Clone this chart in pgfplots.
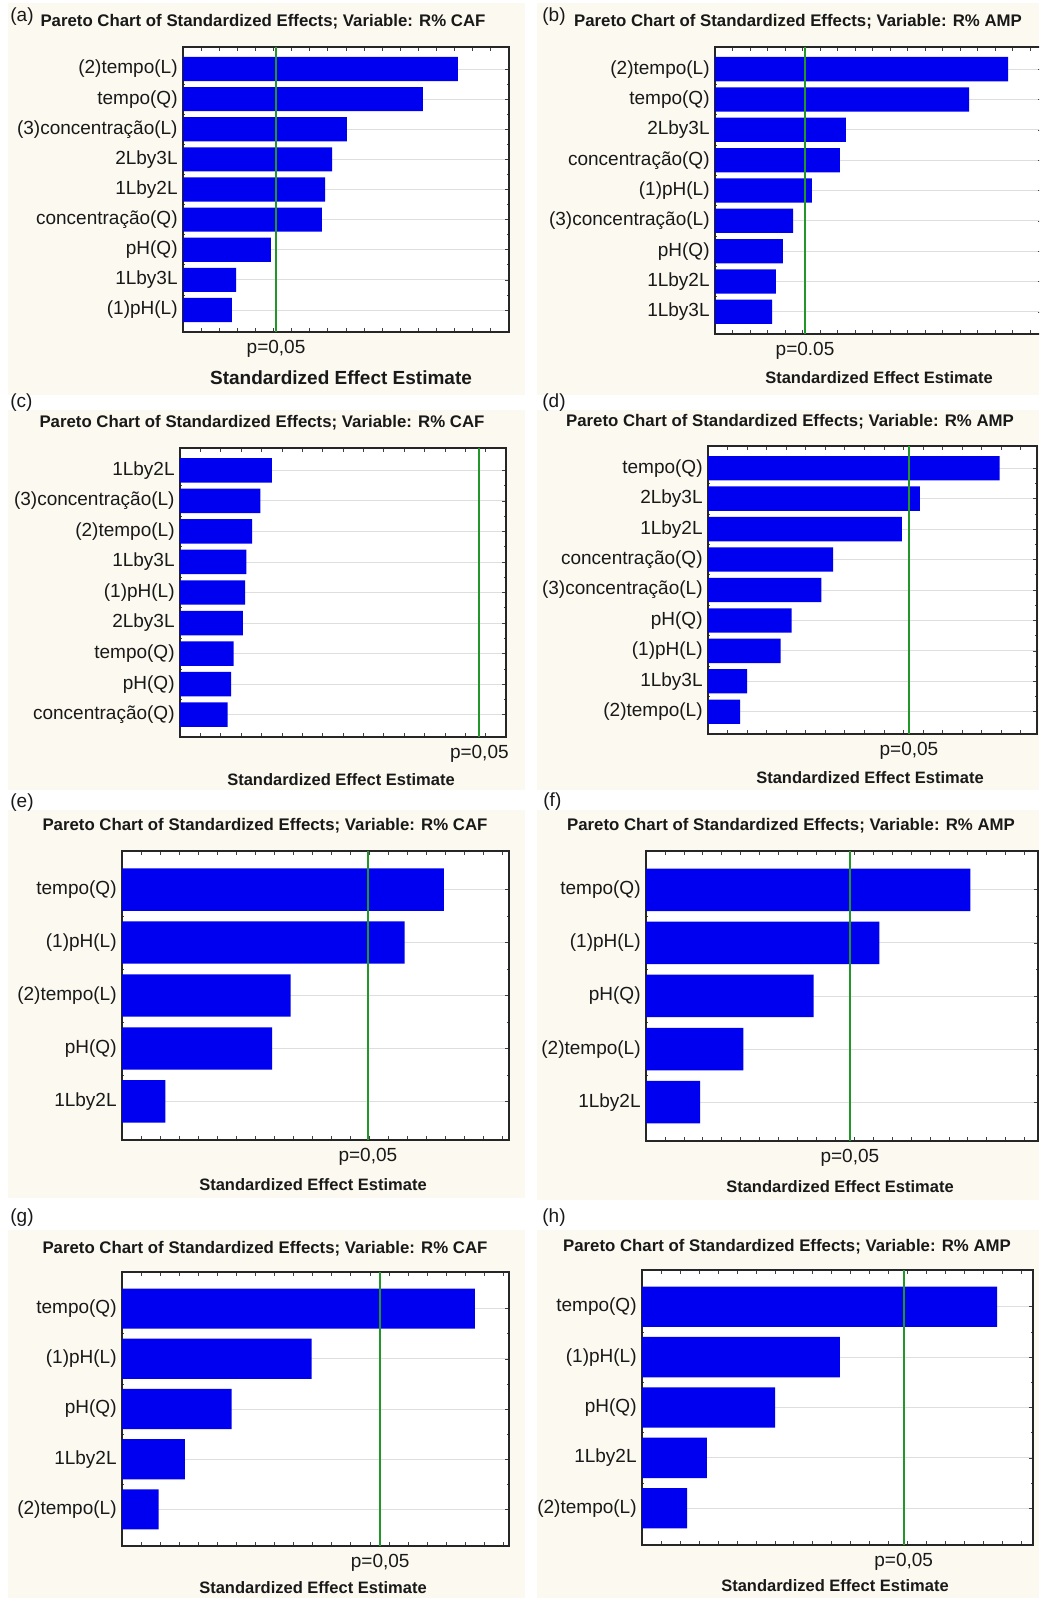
\documentclass[border=0pt]{standalone}
\usepackage{fontspec}
\setmainfont{Liberation Sans}
\usepackage{pgfplots}
\pgfplotsset{compat=1.18}

\definecolor{barblue}{RGB}{0,0,240}
\definecolor{critgreen}{RGB}{34,150,40}
\definecolor{panelbg}{RGB}{252,249,240}
\definecolor{gridgray}{RGB}{222,222,222}

\newcommand\labfont{\fontsize{9.5}{10}\selectfont}
\newcommand\titlefont{\fontsize{8.4}{9}\selectfont\bfseries}
\newcommand\xlabfont{\fontsize{8.25}{9}\selectfont\bfseries}

\pgfplotsset{
  pareto/.style={
    scale only axis, anchor=south west, clip=false,
    xmin=0, y dir=reverse, ymin=-0.73,
    axis background/.style={fill=white},
    axis line style={draw=black!85, line width=0.6pt},
    tick align=inside,
    tick style={draw=black!75, line width=0.3pt},
    major tick length=1.8pt, minor tick length=1pt,
    xticklabels={},
    ymajorgrids, grid style={draw=gridgray, line width=0.4pt},
    minor y tick num=1,
    yticklabel style={font=\labfont, inner sep=0pt, xshift=-2.5pt, text=black!90},
  },
  effects/.style={xbar, bar width=0.8, fill=barblue, draw=none},
  critline/.style={draw=critgreen, line width=0.9pt, no markers},
}
\tikzset{plabel/.style={font=\labfont, text=black!90, yshift=-8.5pt}}

\begin{document}
\begin{tikzpicture}[x=0.5pt,y=0.5pt]
\fill[white] (0,0) rectangle (1039,1598);
% panel backgrounds
\fill[panelbg] (8,1203) rectangle (525,1595);
\fill[panelbg] (537,1203) rectangle (1039,1595);
\fill[panelbg] (8,808) rectangle (525,1188);
\fill[panelbg] (537,808) rectangle (1039,1188);
\fill[panelbg] (8,400) rectangle (525,788);
\fill[panelbg] (537,398) rectangle (1039,788);
\fill[panelbg] (8,0) rectangle (525,368);
\fill[panelbg] (537,0) rectangle (1039,368);

\begin{scope}
\clip (0,0) rectangle (1039,1598);
% (a)
\begin{axis}[pareto, at={(91.5pt,633pt)}, width=163pt, height=142.5pt,
  xmax=9.01, xtick distance=0.5, ymax=8.73, ytick={0,...,8},
  yticklabels={(2)tempo(L), tempo(Q), (3)concentração(L), 2Lby3L, 1Lby2L, concentração(Q), pH(Q), 1Lby3L, (1)pH(L)}]
\addplot[effects] coordinates {(7.60,0) (6.63,1) (4.53,2) (4.12,3) (3.93,4) (3.84,5) (2.43,6) (1.47,7) (1.35,8)};
\addplot[critline] coordinates {(2.571,-0.73) (2.571,8.73)};
\node[plabel] at (axis cs:2.571,8.73) {p=0,05};
\end{axis}

% (b)
\begin{axis}[pareto, at={(357.5pt,632pt)}, width=163.5pt, height=143.5pt,
  xmax=9.34, xtick distance=0.5, ymax=8.73, ytick={0,...,8},
  yticklabels={(2)tempo(L), tempo(Q), 2Lby3L, concentração(Q), (1)pH(L), (3)concentração(L), pH(Q), 1Lby2L, 1Lby3L}]
\addplot[effects] coordinates {(8.37,0) (7.26,1) (3.74,2) (3.57,3) (2.77,4) (2.23,5) (1.94,6) (1.74,7) (1.63,8)};
\addplot[critline] coordinates {(2.571,-0.73) (2.571,8.73)};
\node[plabel] at (axis cs:2.571,8.73) {p=0.05};
\end{axis}

% (c)
\begin{axis}[pareto, at={(90pt,430.5pt)}, width=163pt, height=144.5pt,
  xmax=2.80, xtick distance=0.175, ymax=8.73, ytick={0,...,8},
  yticklabels={1Lby2L, (3)concentração(L), (2)tempo(L), 1Lby3L, (1)pH(L), 2Lby3L, tempo(Q), pH(Q), concentração(Q)}]
\addplot[effects] coordinates {(0.79,0) (0.69,1) (0.62,2) (0.57,3) (0.56,4) (0.54,5) (0.46,6) (0.44,7) (0.41,8)};
\addplot[critline] coordinates {(2.571,-0.73) (2.571,8.73)};
\node[plabel] at (axis cs:2.571,8.73) {p=0,05};
\end{axis}

% (d)
\begin{axis}[pareto, at={(354pt,432pt)}, width=164.5pt, height=144pt,
  xmax=4.21, xtick distance=0.25, ymax=8.73, ytick={0,...,8},
  yticklabels={tempo(Q), 2Lby3L, 1Lby2L, concentração(Q), (3)concentração(L), pH(Q), (1)pH(L), 1Lby3L, (2)tempo(L)}]
\addplot[effects] coordinates {(3.73,0) (2.71,1) (2.48,2) (1.60,3) (1.45,4) (1.07,5) (0.93,6) (0.50,7) (0.41,8)};
\addplot[critline] coordinates {(2.571,-0.73) (2.571,8.73)};
\node[plabel] at (axis cs:2.571,8.73) {p=0,05};
\end{axis}

% (e)
\begin{axis}[pareto, at={(61pt,229pt)}, width=193.5pt, height=144.5pt,
  xmax=3.56, xtick distance=0.175, ymax=4.73, ytick={0,...,4},
  yticklabels={tempo(Q), (1)pH(L), (2)tempo(L), pH(Q), 1Lby2L}]
\addplot[effects] coordinates {(2.96,0) (2.60,1) (1.55,2) (1.38,3) (0.40,4)};
\addplot[critline] coordinates {(2.262,-0.73) (2.262,4.73)};
\node[plabel] at (axis cs:2.262,4.73) {p=0,05};
\end{axis}

% (f)
\begin{axis}[pareto, at={(323pt,228.5pt)}, width=196pt, height=145pt,
  xmax=4.35, xtick distance=0.21, ymax=4.73, ytick={0,...,4},
  yticklabels={tempo(Q), (1)pH(L), pH(Q), (2)tempo(L), 1Lby2L}]
\addplot[effects] coordinates {(3.60,0) (2.59,1) (1.86,2) (1.08,3) (0.60,4)};
\addplot[critline] coordinates {(2.262,-0.73) (2.262,4.73)};
\node[plabel] at (axis cs:2.262,4.73) {p=0,05};
\end{axis}

% (g)
\begin{axis}[pareto, at={(61pt,26pt)}, width=193.5pt, height=137pt,
  xmax=3.39, xtick distance=0.167, ymax=4.73, ytick={0,...,4},
  yticklabels={tempo(Q), (1)pH(L), pH(Q), 1Lby2L, (2)tempo(L)}]
\addplot[effects] coordinates {(3.09,0) (1.66,1) (0.96,2) (0.55,3) (0.32,4)};
\addplot[critline] coordinates {(2.262,-0.73) (2.262,4.73)};
\node[plabel] at (axis cs:2.262,4.73) {p=0,05};
\end{axis}

% (h)
\begin{axis}[pareto, at={(321pt,26.5pt)}, width=195.5pt, height=137.5pt,
  xmax=3.38, xtick distance=0.164, ymax=4.73, ytick={0,...,4},
  yticklabels={tempo(Q), (1)pH(L), pH(Q), 1Lby2L, (2)tempo(L)}]
\addplot[effects] coordinates {(3.07,0) (1.71,1) (1.15,2) (0.56,3) (0.39,4)};
\addplot[critline] coordinates {(2.262,-0.73) (2.262,4.73)};
\node[plabel] at (axis cs:2.262,4.73) {p=0,05};
\end{axis}
\end{scope}

% titles, panel letters and axis labels
\begin{scope}[every node/.style={text=black!90}]
\node[font=\titlefont] at (263,1576) {Pareto Chart of Standardized Effects; Variable: R\% CAF};
\node[font=\titlefont] at (798,1576) {Pareto Chart of Standardized Effects; Variable: R\% AMP};
\node[font=\titlefont] at (262,1175) {Pareto Chart of Standardized Effects; Variable: R\% CAF};
\node[font=\titlefont] at (790,1176) {Pareto Chart of Standardized Effects; Variable: R\% AMP};
\node[font=\titlefont] at (265,772) {Pareto Chart of Standardized Effects; Variable: R\% CAF};
\node[font=\titlefont] at (791,772) {Pareto Chart of Standardized Effects; Variable: R\% AMP};
\node[font=\titlefont] at (265,349) {Pareto Chart of Standardized Effects; Variable: R\% CAF};
\node[font=\titlefont] at (787,351) {Pareto Chart of Standardized Effects; Variable: R\% AMP};

\node[font=\labfont, anchor=west, inner sep=0pt] at (10,1581) {(a)};
\node[font=\labfont, anchor=west, inner sep=0pt] at (542,1581) {(b)};
\node[font=\labfont, anchor=west, inner sep=0pt] at (10,1195) {(c)};
\node[font=\labfont, anchor=west, inner sep=0pt] at (542,1195) {(d)};
\node[font=\labfont, anchor=west, inner sep=0pt] at (10,795) {(e)};
\node[font=\labfont, anchor=west, inner sep=0pt] at (543,796) {(f)};
\node[font=\labfont, anchor=west, inner sep=0pt] at (10,380) {(g)};
\node[font=\labfont, anchor=west, inner sep=0pt] at (542,380) {(h)};

\node[font=\fontsize{9.5}{10}\selectfont\bfseries] at (341,1220) {Standardized Effect Estimate};
\node[font=\xlabfont] at (879,1220) {Standardized Effect Estimate};
\node[font=\xlabfont] at (341,818) {Standardized Effect Estimate};
\node[font=\xlabfont] at (870,820) {Standardized Effect Estimate};
\node[font=\xlabfont] at (313,413) {Standardized Effect Estimate};
\node[font=\xlabfont] at (840,411) {Standardized Effect Estimate};
\node[font=\xlabfont] at (313,10) {Standardized Effect Estimate};
\node[font=\xlabfont] at (835,12) {Standardized Effect Estimate};
\end{scope}

\pgfresetboundingbox
\useasboundingbox (0,0) rectangle (1039,1598);
\end{tikzpicture}
\end{document}
